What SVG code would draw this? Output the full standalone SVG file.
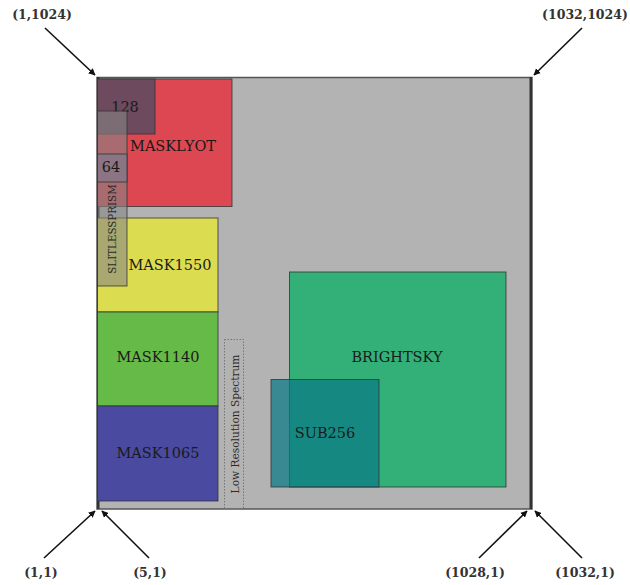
<svg xmlns="http://www.w3.org/2000/svg" width="630" height="585" viewBox="0 0 630 585">
<style>
.lbl{font-family:"DejaVu Serif",serif;font-size:14.5px;fill:#1a1a1a;text-anchor:middle;dominant-baseline:central}
.small{font-family:"DejaVu Serif",serif;font-size:10.3px;fill:#2a2a2a;text-anchor:middle;dominant-baseline:central}
.coord{font-family:"DejaVu Serif",serif;font-size:12.5px;font-weight:bold;fill:#333;text-anchor:middle;dominant-baseline:central}
.box{stroke:#333;stroke-width:1;stroke-opacity:0.8}
.arr{stroke:#111;stroke-width:1.6;fill:none;marker-end:url(#ah)}
</style>
<defs>
<marker id="ah" viewBox="0 0 10 10" refX="9" refY="5" markerWidth="7" markerHeight="7" markerUnits="userSpaceOnUse" orient="auto">
<path d="M0,0 L10,5 L0,10 Z" fill="#111"/>
</marker>
</defs>
<rect width="630" height="585" fill="#fff"/>
<g id="detector">
<rect x="97" y="77.5" width="435" height="431.5" fill="#b3b3b3" stroke="#555" stroke-width="1.5"/>
<rect x="97" y="77" width="2.5" height="432" fill="#333"/>
<rect x="529.5" y="77" width="2.5" height="432" fill="#333"/>
</g>
<g id="masklyot">
<rect class="box" x="97.5" y="79" width="134.5" height="127.5" fill="#dc4751"/>
<text class="lbl" x="173" y="146">MASKLYOT</text>
</g>
<g id="sub128">
<rect class="box" x="97.5" y="79" width="57.5" height="55" fill="#6e4a5e"/>
<text class="lbl" x="125" y="107">128</text>
</g>
<g id="mask1550">
<rect class="box" x="97.5" y="218" width="120.5" height="94" fill="#dcdc50"/>
<text class="lbl" x="170" y="265">MASK1550</text>
</g>
<g id="mask1140">
<rect class="box" x="97.5" y="312" width="120.5" height="94" fill="#66bb48"/>
<text class="lbl" x="158" y="357">MASK1140</text>
</g>
<g id="mask1065">
<rect class="box" x="97.5" y="406" width="120.5" height="95" fill="#4a4aa0"/>
<text class="lbl" x="158" y="453">MASK1065</text>
</g>
<g id="slitlessprism">
<rect class="box" x="97.5" y="111" width="29.5" height="175" fill="#858585" fill-opacity="0.6"/>
<text class="small" transform="translate(112,229) rotate(-90)">SLITLESSPRISM</text>
</g>
<g id="sub64">
<rect class="box" x="97.5" y="154" width="29.5" height="28" fill="#8b7584"/>
<text class="lbl" x="111" y="167">64</text>
</g>
<g id="lrs">
<rect x="224.5" y="339.5" width="19" height="169" fill="none" stroke="#777" stroke-width="1" stroke-dasharray="1.5,1.5"/>
<text class="small" style="font-size:10.6px" transform="translate(234.5,424) rotate(-90)">Low Resolution Spectrum</text>
</g>
<g id="brightsky">
<rect class="box" x="289.5" y="272" width="216.5" height="215" fill="#33b077"/>
<text class="lbl" x="397" y="357">BRIGHTSKY</text>
</g>
<g id="sub256">
<rect class="box" x="271" y="379.5" width="108" height="107.5" fill="#0a7887" fill-opacity="0.72"/>
<text class="lbl" x="325" y="433">SUB256</text>
</g>
<g id="connectors">
<line class="arr" x1="45" y1="28" x2="95" y2="75"/>
<line class="arr" x1="582" y1="28" x2="534" y2="75"/>
<line class="arr" x1="44" y1="558" x2="95" y2="511"/>
<line class="arr" x1="149" y1="558" x2="102" y2="511"/>
<line class="arr" x1="479" y1="558" x2="527" y2="511"/>
<line class="arr" x1="582" y1="558" x2="535" y2="511"/>
</g>
<g id="labels">
<text class="coord" x="42" y="14">(1,1024)</text>
<text class="coord" x="585" y="14">(1032,1024)</text>
<text class="coord" x="41" y="572">(1,1)</text>
<text class="coord" x="150" y="572">(5,1)</text>
<text class="coord" x="475" y="572">(1028,1)</text>
<text class="coord" x="585" y="572">(1032,1)</text>
</g>
</svg>
